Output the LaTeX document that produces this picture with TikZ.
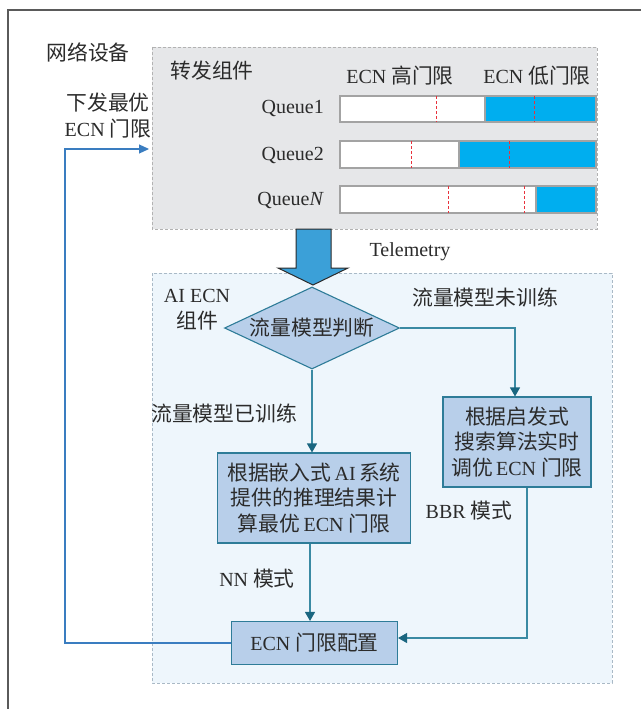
\documentclass[tikz,border=0pt]{standalone}
\usepackage{fontspec}
\setmainfont{Liberation Serif}
\newfontfamily\cjk[Scale=1.04]{Noto Sans CJK SC}
\usetikzlibrary{shapes.geometric,arrows.meta}
\newcommand{\zh}[1]{{\cjk #1}}
\definecolor{txt}{HTML}{2B2B2B}
\definecolor{framecol}{HTML}{5A5A5A}
\definecolor{grayfill}{HTML}{E6E7E9}
\definecolor{graydash}{HTML}{B2B2B2}
\definecolor{aifill}{HTML}{EEF6FC}
\definecolor{aidash}{HTML}{A9B9C6}
\definecolor{boxfill}{HTML}{B8CFEA}
\definecolor{boxline}{HTML}{2E7C98}
\definecolor{conn}{HTML}{3A8AA3}
\definecolor{tip}{HTML}{1A6680}
\definecolor{qblue}{HTML}{00AEEF}
\definecolor{qline}{HTML}{A3A3A3}
\definecolor{reddash}{HTML}{E8323C}
\definecolor{bigarrow}{HTML}{3BA0D8}
\definecolor{fbcol}{HTML}{3A7DC0}
\tikzset{
  lbl/.style={text=txt, font=\fontsize{20}{26}\selectfont, inner sep=0pt, align=center},
  flowbox/.style={draw=boxline, fill=boxfill, line width=1.1pt, align=center, inner sep=0pt,
    text=txt, font=\fontsize{20}{25.5}\selectfont},
  conline/.style={draw=conn, line width=1.1pt, -{Triangle[length=9pt,width=10pt,color=tip]}},
  fbline/.style={draw=fbcol, line width=1.2pt, -{Triangle[length=10pt,width=9pt,color=fbcol]}},
  qbar/.style={draw=qline, line width=1.2pt},
  thr/.style={draw=reddash, line width=0.8pt, dash pattern=on 3pt off 2pt},
}
\begin{document}
\begin{tikzpicture}[x=1pt,y=-1pt]
\useasboundingbox (0,0) rectangle (641,709);
\fill[white] (0,0) rectangle (641,709);
% outer frame
\draw[framecol, line width=1.3pt] (8,709) -- (8,10) -- (641,10);
% forwarding component region
\draw[fill=grayfill, draw=graydash, line width=0.8pt, dash pattern=on 3pt off 2pt] (152,47) rectangle (597,229);
% AI ECN region
\draw[fill=aifill, draw=aidash, line width=0.8pt, dash pattern=on 3pt off 2pt] (152,273) rectangle (612,683);

% labels in top part
\node[lbl] (dev) at (88,52) {\zh{网络设备}};
\node[lbl] (fwd) at (212,71) {\zh{转发组件}};
\node[lbl] (hi) at (400,76) {ECN \zh{高门限}};
\node[lbl] (lo) at (537,76) {ECN \zh{低门限}};
\node[lbl, anchor=east] (q1) at (324,108) {Queue1};
\node[lbl, anchor=east] (q2) at (324,155) {Queue2};
\node[lbl, anchor=east] (qn) at (324,200) {Queue\textit{N}};

% queue bars
\fill[white] (340,96) rectangle (485,122);
\fill[qblue] (485,96) rectangle (596,122);
\draw[qbar] (340,96) rectangle (596,122);
\draw[qbar] (485,96) -- (485,122);
\draw[thr] (436,96) -- (436,122);
\draw[thr] (534,96) -- (534,122);

\fill[white] (340,141) rectangle (459,168);
\fill[qblue] (459,141) rectangle (596,168);
\draw[qbar] (340,141) rectangle (596,168);
\draw[qbar] (459,141) -- (459,168);
\draw[thr] (411,141) -- (411,168);
\draw[thr] (509,141) -- (509,168);

\fill[white] (340,186) rectangle (536,213);
\fill[qblue] (536,186) rectangle (596,213);
\draw[qbar] (340,186) rectangle (596,213);
\draw[qbar] (536,186) -- (536,213);
\draw[thr] (448,186) -- (448,213);
\draw[thr] (524,186) -- (524,213);

% telemetry arrow
\draw[fill=bigarrow, draw=txt, line width=1pt, line join=miter]
  (296,229) -- (331,229) -- (331,268) -- (348,268) -- (313,285) -- (278,268) -- (296,268) -- cycle;
\node[lbl] (tel) at (410,252) {Telemetry};

% feedback label
\node[lbl] (push) at (108,116) {\zh{下发最优}\\ECN \zh{门限}};

% AI ECN region labels
\node[lbl] (ai) at (197,310) {AI ECN\\\zh{组件}};
\node[lbl] (untr) at (485,298) {\zh{流量模型未训练}};
\node[lbl] (tr) at (224,414) {\zh{流量模型已训练}};
\node[lbl] (nn) at (257,579) {NN \zh{模式}};
\node[lbl] (bbr) at (469,511) {BBR \zh{模式}};

% flow nodes
\node[flowbox, diamond, aspect=2.13, minimum width=175pt, minimum height=82pt] (judge) at (312,328) {\zh{流量模型判断}};
\node[flowbox, minimum width=148pt, minimum height=90pt] (heur) at (517,442)
  {\zh{根据启发式}\\\zh{搜索算法实时}\\\zh{调优}\,ECN \zh{门限}};
\node[flowbox, minimum width=193pt, minimum height=90pt] (nnbox) at (314,498)
  {\zh{根据嵌入式}\,AI\,\zh{系统}\\\zh{提供的推理结果计}\\\zh{算最优}\,ECN \zh{门限}};
\node[flowbox, minimum width=166pt, minimum height=43pt] (cfg) at (314.5,643) {ECN \zh{门限配置}};

% connectors
\draw[conline] (judge.east) -| ([xshift=-2pt]heur.north);
\draw[conline] (judge.south) -- (judge.south |- nnbox.north);
\draw[conline] ([xshift=-4pt]nnbox.south) -- ([xshift=-4pt]nnbox.south |- cfg.north);
\draw[conline] ([xshift=10pt]heur.south) |- ([yshift=5pt]cfg.east);

% feedback
\coordinate (fbcorner) at (65,149);
\coordinate (fbend) at (149,149);
\draw[fbline] (cfg.west) -| (fbcorner) -- (fbend);
\end{tikzpicture}
\end{document}
